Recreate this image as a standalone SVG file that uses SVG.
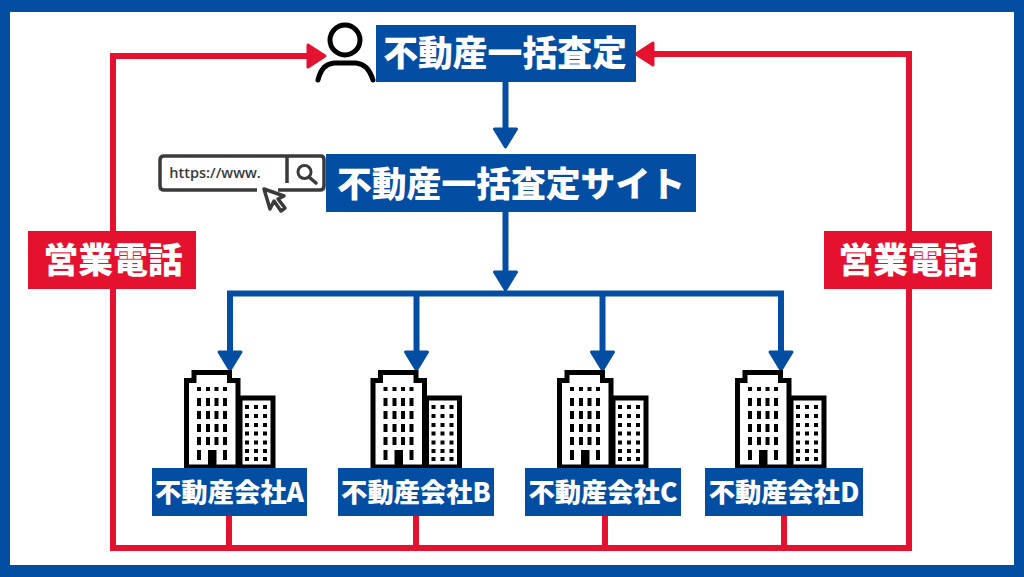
<svg xmlns="http://www.w3.org/2000/svg" width="1024" height="577" viewBox="0 0 1024 577">
<style>
.b{fill:#034ea2}.r{fill:#e4112f}
text{font-family:"Noto Sans CJK JP","Noto Sans",sans-serif;font-weight:900;fill:#fff;text-anchor:middle}
.t{font-size:34.800px}.c{font-size:26.300px}
.bl{fill:none;stroke:#034ea2;stroke-width:6}
.rl{fill:none;stroke:#e4112f;stroke-width:6}
.ink{fill:none;stroke:#000;stroke-width:5}
</style>
<defs>
<marker id="ab" markerUnits="userSpaceOnUse" markerWidth="26" markerHeight="30" refX="10" refY="15" orient="auto"><path d="M4 4 L22 15 L4 26Z" fill="#034ea2" stroke="#034ea2" stroke-width="3" stroke-linejoin="round"/></marker>
<marker id="ar" markerUnits="userSpaceOnUse" markerWidth="24" markerHeight="30" refX="8" refY="15" orient="auto"><path d="M3 4 L20 15 L3 26Z" fill="#e4112f" stroke="#e4112f" stroke-width="3" stroke-linejoin="round"/></marker>
<g id="bld">
<path d="M186.500 467V380.500H194V372.500H229.500V380.500H238V467Z" fill="#fff" stroke="#000" stroke-width="5"/>
<path d="M240 398H273V467H240Z" fill="#fff" stroke="#000" stroke-width="5"/>
<path d="M197 387h4v4h-4zM206 387h4v4h-4zM214.500 387h4v4h-4zM223 387h4v4h-4z" fill="#000"/>
<path d="M197 398h4v8h-4zM206 398h4v8h-4zM214.500 398h4v8h-4zM223 398h4v8h-4zM197 411h4v8h-4zM206 411h4v8h-4zM214.500 411h4v8h-4zM223 411h4v8h-4zM197 424h4v8h-4zM206 424h4v8h-4zM214.500 424h4v8h-4zM223 424h4v8h-4zM197 437h4v8h-4zM206 437h4v8h-4zM214.500 437h4v8h-4zM223 437h4v8h-4zM197 450h4v10h-4zM223 450h4v10h-4zM208 450h8.500v17h-8.500z" fill="#000"/>
<path d="M245 405h4v4h-4zM254 405h4v4h-4zM263 405h4v4h-4zM245 414h4v4h-4zM254 414h4v4h-4zM263 414h4v4h-4zM245 423h4v4h-4zM254 423h4v4h-4zM263 423h4v4h-4zM245 431.500h4v4h-4zM254 431.500h4v4h-4zM263 431.500h4v4h-4zM245 440.500h4v4h-4zM254 440.500h4v4h-4zM263 440.500h4v4h-4zM245 449h4v4h-4zM254 449h4v4h-4zM263 449h4v4h-4zM245 457h4v4h-4zM254 457h4v4h-4zM263 457h4v4h-4z" fill="#000"/>
</g>
</defs>
<rect width="1024" height="577" fill="#fff"/>
<path d="M0 0H1024V577H0ZM10 12V565H1014V12Z" fill-rule="evenodd" class="b"/>
<g id="connectors">
<path class="bl" d="M505.500 82V135" marker-end="url(#ab)"/>
<path class="bl" d="M505.500 212V278" marker-end="url(#ab)"/>
<path class="bl" d="M230 358V293.500H781V358"/>
<path class="bl" d="M230 340V358" marker-end="url(#ab)"/>
<path class="bl" d="M416.500 293.500V358" marker-end="url(#ab)"/>
<path class="bl" d="M602.500 293.500V358" marker-end="url(#ab)"/>
<path class="bl" d="M781 340V358" marker-end="url(#ab)"/>
<path class="rl" d="M113 231V56H313" marker-end="url(#ar)"/>
<path class="rl" d="M909 231V54H648" marker-end="url(#ar)"/>
<path class="rl" d="M113 289V548H909V289"/>
<path class="rl" d="M229 516V548M416 516V548M605 516V548M784 516V548"/>
</g>
<g id="user">
<circle cx="345" cy="40" r="15" class="ink"/>
<path class="ink" stroke-linecap="round" d="M318 80C321 68 326 64 334 63H356C364 64 369 68 373 80"/>
</g>
<g id="n1"><rect class="b" x="376" y="25" width="260" height="57"/><text class="t" x="505" y="66">不動産一括査定</text></g>
<g id="browser">
<path fill="none" stroke="#3a3a3a" stroke-width="3.500" stroke-linejoin="round" d="M257 190H164Q160 190 160 186V160Q160 156 164 156H321Q324 156 324 160V186Q324 190 320 190H278"/>
<path fill="none" stroke="#3a3a3a" stroke-width="3.500" d="M287 156V183"/>
<circle cx="304.500" cy="172" r="6.500" fill="none" stroke="#3a3a3a" stroke-width="3"/>
<path fill="none" stroke="#3a3a3a" stroke-width="3.500" stroke-linecap="round" d="M309 177L316 183"/>
<text x="215" y="178" style="font-family:'Open Sans',sans-serif;font-weight:600;font-size:14.500px;fill:#3a3a3a">https://www.</text>
<path fill="#fff" stroke="#3a3a3a" stroke-width="3.500" stroke-linejoin="round" d="M264 189L270 209L274 201L281 211L285 208L278 199L284 196Z"/>
</g>
<g id="n2"><rect class="b" x="326" y="154" width="370" height="58"/><text class="t" x="511" y="197">不動産一括査定サイト</text></g>
<g id="callL"><rect class="r" x="28" y="231" width="168" height="58"/><text class="t" x="113" y="273">営業電話</text></g>
<g id="callR"><rect class="r" x="824" y="231" width="168" height="58"/><text class="t" x="908" y="273">営業電話</text></g>
<g id="a"><use href="#bld"/><rect class="b" x="152" y="468" width="155" height="48"/><text class="c" x="229.500" y="502">不動産会社A</text></g>
<g id="b"><use href="#bld" x="186.500"/><rect class="b" x="338" y="468" width="156" height="48"/><text class="c" x="416" y="502">不動産会社B</text></g>
<g id="c"><use href="#bld" x="373"/><rect class="b" x="525" y="468" width="156" height="48"/><text class="c" x="603" y="502">不動産会社C</text></g>
<g id="d"><use href="#bld" x="551"/><rect class="b" x="705" y="468" width="158" height="48"/><text class="c" x="784" y="502">不動産会社D</text></g>
</svg>
